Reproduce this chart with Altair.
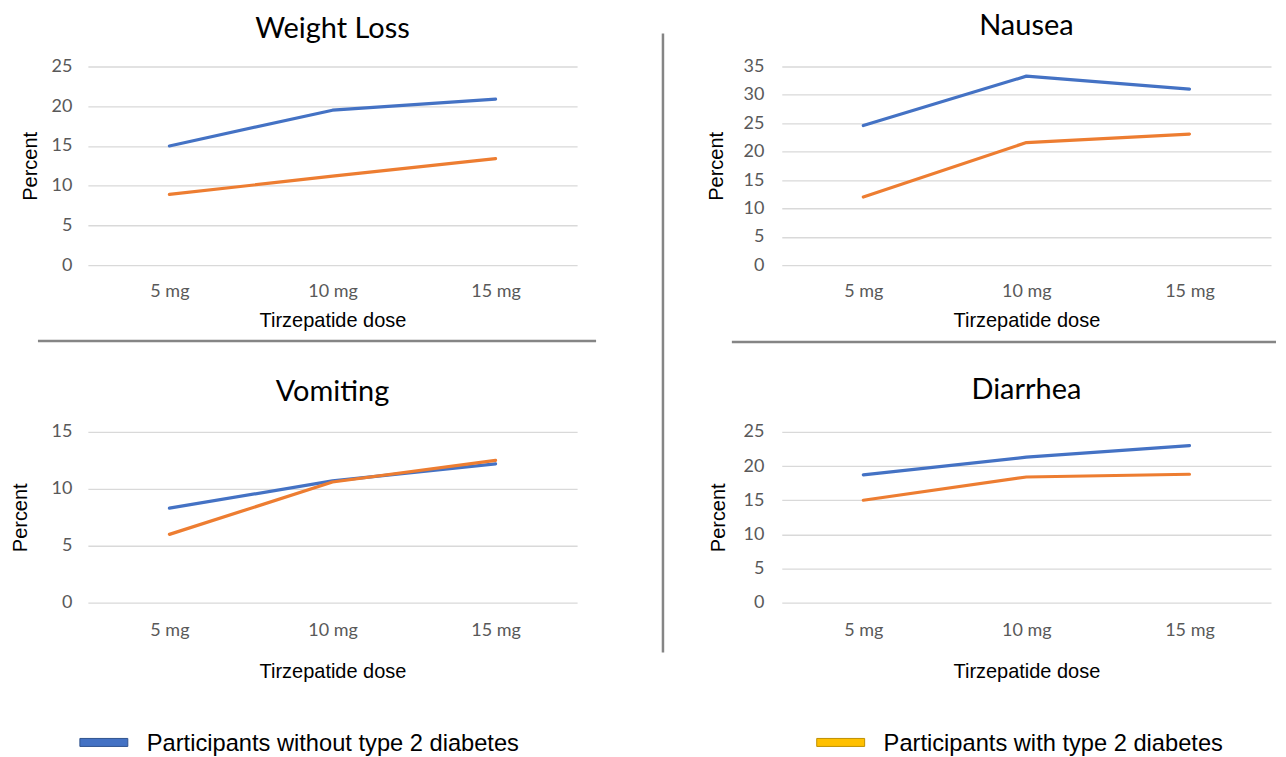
import altair as alt
import pandas as pd

doses = ["5 mg", "10 mg", "15 mg"]
groups = ["Participants without type 2 diabetes", "Participants with type 2 diabetes"]

weight_without = [15.0, 19.5, 20.9]
weight_with = [8.9, 11.2, 13.4]
nausea_without = [24.6, 33.3, 31.0]
nausea_with = [12.0, 21.6, 23.1]
vomit_without = [8.3, 10.7, 12.2]
vomit_with = [6.0, 10.6, 12.5]
diarr_without = [18.7, 21.3, 23.0]
diarr_with = [15.0, 18.4, 18.8]

LINE_COLORS = ["#4472C4", "#ED7D31"]
LEGEND_FILLS = ["#4472C4", "#FFC000"]
LEGEND_STROKES = ["#2F528F", "#BF9000"]
SEP = "#858585"

W = 490


def make_df(a, b):
    return pd.DataFrame({
        "dose": doses + doses,
        "group": [groups[0]] * 3 + [groups[1]] * 3,
        "value": a + b,
    })


def rule(x1, x2, y1, y2):
    return alt.Chart(pd.DataFrame({"k": [0]})).mark_rule(
        color=SEP, strokeWidth=2.5
    ).encode(x=alt.value(x1), x2=alt.value(x2), y=alt.value(y1), y2=alt.value(y2))


def panel(title, a, b, ymax, height, title_offset, title_dy, xlp, xtp, ylp, ytp, extras,
          independent_x=False):
    df = make_df(a, b)
    lines = alt.Chart(df).mark_line(strokeWidth=3.2, strokeCap="round", strokeJoin="round").encode(
        x=alt.X("dose:N", sort=doses, scale=alt.Scale(padding=0.5),
                axis=alt.Axis(title="Tirzepatide dose", labelAngle=0, domain=False, ticks=False,
                              grid=False, labelPadding=xlp, titlePadding=xtp,
                              labelFont="Lato", labelFontSize=18, labelColor="#595959",
                              titleFont="Liberation Sans", titleFontSize=20,
                              titleFontWeight="normal", titleColor="#000000")),
        y=alt.Y("value:Q", scale=alt.Scale(domain=[0, ymax], nice=False),
                axis=alt.Axis(title="Percent", values=list(range(0, ymax + 1, 5)), domain=False,
                              ticks=False, grid=True, gridColor="#D9D9D9", gridWidth=1.3,
                              labelPadding=ylp, titlePadding=ytp,
                              labelFont="Lato", labelFontSize=18, labelColor="#595959",
                              titleFont="Liberation Sans", titleFontSize=20,
                              titleFontWeight="normal", titleColor="#000000")),
        color=alt.Color("group:N", scale=alt.Scale(domain=groups, range=LINE_COLORS), legend=None),
    )
    layers = [lines] + extras
    ch = alt.layer(*layers)
    if independent_x:
        ch = ch.resolve_scale(x="independent")
    return ch.properties(
        width=W, height=height,
        title=alt.TitleParams(title, font="Lato", fontSize=29, fontWeight="normal",
                              color="#000000", offset=title_offset, dy=title_dy,
                              frame="group", anchor="middle"),
    )


# legend row (drawn inside the Vomiting panel, below its axis)
legend_df = pd.DataFrame({"group": groups})
LEG_Y = 313
leg_x = alt.X("group:N", sort=groups, axis=None,
              scale=alt.Scale(type="point", domain=groups, range=[-8, 730], padding=0))
leg_swatch = alt.Chart(legend_df).mark_rect(width=48, height=8, xOffset=24, strokeWidth=1).encode(
    x=leg_x,
    y=alt.value(LEG_Y - 2),
    fill=alt.Fill("group:N", scale=alt.Scale(domain=groups, range=LEGEND_FILLS), legend=None),
    stroke=alt.Stroke("group:N", scale=alt.Scale(domain=groups, range=LEGEND_STROKES), legend=None),
)
leg_text = alt.Chart(legend_df).mark_text(align="left", baseline="middle", dx=67,
                                          font="Liberation Sans", fontSize=23.7,
                                          color="#000000").encode(
    x=leg_x,
    y=alt.value(LEG_Y),
    text="group:N",
)

tl = panel("Weight Loss", weight_without, weight_with, 25, 199, 14, 0, 17, 10, 16, 11,
           [rule(-50, 509, 275, 275)])
tr = panel("Nausea", nausea_without, nausea_with, 35, 199, 16, 25, 17, 10, 18, 16,
           [rule(-119, -119, -33, 587), rule(-50, 495, 276, 276)])
bl = panel("Vomiting", vomit_without, vomit_with, 15, 171, 16, 0, 19, 22, 16, 21,
           [leg_swatch, leg_text], independent_x=True)
br = panel("Diarrhea", diarr_without, diarr_with, 25, 171, 18, 0, 19, 22, 18, 14, [])

chart = alt.concat(tl, tr, bl, br, columns=2, spacing={"column": 205, "row": 167},
                   bounds="flush", align="each").properties(
    padding={"left": 2, "top": 3, "right": 0, "bottom": 0},
    background="white",
).configure_view(stroke=None)

chart.save("out.html", embed_options={"renderer": "svg", "actions": False})
